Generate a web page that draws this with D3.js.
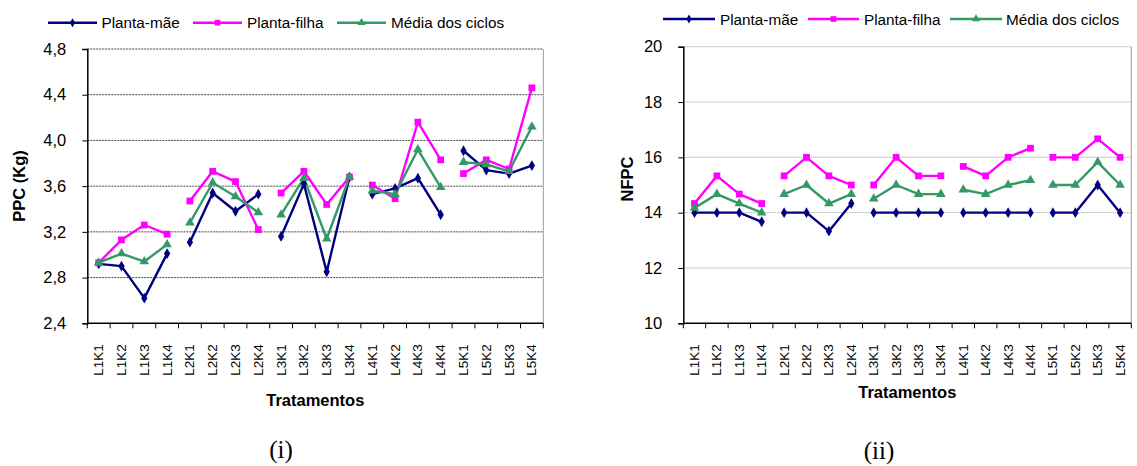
<!DOCTYPE html>
<html><head><meta charset="utf-8">
<script src="https://cdn.jsdelivr.net/npm/d3@7"></script>
<style>
html,body{margin:0;padding:0;background:#fff;}
svg{display:block;font-family:"Liberation Sans",Arial,sans-serif;}
</style></head>
<body>
<svg id="c" width="1137" height="466"></svg>
<script>
const categories = ["L1K1","L1K2","L1K3","L1K4","L2K1","L2K2","L2K3","L2K4","L3K1","L3K2","L3K3","L3K4","L4K1","L4K2","L4K3","L4K4","L5K1","L5K2","L5K3","L5K4"];
const seriesNames = ["Planta-mãe","Planta-filha","Média dos ciclos"];

const ppcMae   = [2.92,2.90,2.62,3.01,3.11,3.54,3.38,3.53,3.16,3.62,2.85,3.68,3.53,3.58,3.67,3.35,3.91,3.74,3.71,3.78];
const ppcFilha = [2.93,3.13,3.26,3.18,3.47,3.73,3.64,3.22,3.54,3.73,3.44,3.68,3.61,3.49,4.16,3.83,3.71,3.83,3.75,4.46];
const ppcMedia = [2.93,3.01,2.94,3.09,3.28,3.63,3.51,3.37,3.35,3.67,3.14,3.68,3.56,3.53,3.92,3.59,3.81,3.79,3.73,4.12];
const ppcTicks = [2.4,2.8,3.2,3.6,4.0,4.4,4.8];

const nfpcMae   = [14,14,14,13.67,14,14,13.33,14.33,14,14,14,14,14,14,14,14,14,14,15,14];
const nfpcFilha = [14.33,15.33,14.67,14.33,15.33,16,15.33,15,15,16,15.33,15.33,15.67,15.33,16,16.33,16,16,16.67,16];
const nfpcMedia = [14.17,14.67,14.33,14,14.67,15,14.33,14.67,14.5,15,14.67,14.67,14.83,14.67,15,15.17,15,15,15.83,15];
const nfpcTicks = [10,12,14,16,18,20];

const colors = ["#000080","#FF00FF","#339966"];
const symbols = [d3.symbolDiamond, d3.symbolSquare, d3.symbolTriangle];
const symSizes = [34, 46, 40];

const svg = d3.select("#c");

function drawChart(cfg){
  const g = svg.append("g");
  const x = d3.scaleBand().domain(categories).range([cfg.x0, cfg.x1]).padding(0);
  const y = d3.scaleLinear().domain([cfg.ticks[0], cfg.ticks[cfg.ticks.length-1]]).range([cfg.y1, cfg.y0]);
  const cx = c => x(c) + x.bandwidth()/2;

  // gridlines
  g.append("g").selectAll("line").data(cfg.ticks.slice(1)).join("line")
    .attr("x1", cfg.x0).attr("x2", cfg.x1)
    .attr("y1", d=>y(d)).attr("y2", d=>y(d))
    .attr("stroke", cfg.gridColor).attr("stroke-width",1).attr("stroke-dasharray", cfg.gridDash);
  // right border
  g.append("line").attr("x1",cfg.x1).attr("x2",cfg.x1).attr("y1",cfg.y0).attr("y2",cfg.y1)
    .attr("stroke","#999").attr("stroke-width",1);

  // y axis
  const ya = d3.axisLeft(y).tickValues(cfg.ticks).tickSize(5).tickPadding(16)
    .tickFormat(cfg.fmt);
  const yg = g.append("g").attr("transform",`translate(${cfg.x0},0)`).call(ya);
  yg.select(".domain").attr("stroke","#000").attr("stroke-width",1.5);
  yg.selectAll(".tick line").attr("stroke","#000");
  yg.selectAll("text").attr("font-size",16.5).attr("fill","#000").attr("font-family","Liberation Sans, Arial, sans-serif");

  // x axis: labels
  const xa = d3.axisBottom(x).tickSize(0).tickPadding(0);
  const xg = g.append("g").attr("transform",`translate(0,${cfg.y1})`).call(xa);
  xg.select(".domain").remove();
  xg.selectAll("text").attr("font-size",13.5).attr("fill","#000")
    .attr("font-family","Liberation Sans, Arial, sans-serif")
    .attr("text-anchor","end").attr("dy",null).attr("y",null)
    .attr("transform","translate(4.5,21) rotate(-90)");
  // boundary ticks
  const bounds = categories.map(c=>x(c)).concat([cfg.x1]);
  g.append("g").selectAll("line").data(bounds).join("line")
    .attr("x1",d=>d).attr("x2",d=>d).attr("y1",cfg.y1).attr("y2",cfg.y1+5)
    .attr("stroke","#000").attr("stroke-width",1);
  g.append("line").attr("x1",cfg.x0).attr("x2",cfg.x1).attr("y1",cfg.y1).attr("y2",cfg.y1)
    .attr("stroke","#000").attr("stroke-width",1.5);

  // lines by group
  const line = d3.line().x(d=>cx(d.c)).y(d=>y(d.v));
  cfg.series.forEach((vals, si) => {
    const pts = categories.map((c,i)=>({c, v:vals[i], grp:c.slice(0,2)}));
    const groups = d3.groups(pts, d=>d.grp);
    g.append("g").selectAll("path").data(groups).join("path")
      .attr("d", d=>line(d[1])).attr("fill","none")
      .attr("stroke", colors[si]).attr("stroke-width",2.4).attr("stroke-linejoin","round");
  });
  cfg.series.forEach((vals, si) => {
    g.append("g").selectAll("path").data(categories.map((c,i)=>({c, v:vals[i]}))).join("path")
      .attr("d", d3.symbol().type(symbols[si]).size(symSizes[si]))
      .attr("transform", d=>`translate(${cx(d.c)},${y(d.v)})`)
      .attr("fill", colors[si]);
  });

  // axis titles
  g.append("text").attr("transform",`translate(${cfg.yTitleX},${cfg.yTitleY}) rotate(-90)`)
    .attr("text-anchor","middle").attr("font-weight","bold").attr("font-size",16.5).text(cfg.yTitle);
  g.append("text").attr("x",(cfg.x0+cfg.x1)/2).attr("y",cfg.xTitleY)
    .attr("text-anchor","middle").attr("font-weight","bold").attr("font-size",16.5).text("Tratamentos");

  // legend
  cfg.legend.forEach((L, si) => {
    const lg = g.append("g");
    lg.append("line").attr("x1",L.lx).attr("x2",L.lx+L.lw).attr("y1",cfg.legendY).attr("y2",cfg.legendY)
      .attr("stroke",colors[si]).attr("stroke-width",2.4);
    lg.append("path").attr("d", d3.symbol().type(symbols[si]).size(symSizes[si]*0.7))
      .attr("transform",`translate(${L.lx+L.lw/2},${cfg.legendY})`).attr("fill",colors[si]);
    lg.append("text").attr("x",L.tx).attr("y",cfg.legendY+5.5).attr("font-size",15.3).text(seriesNames[si]);
  });

  // caption
  g.append("text").attr("x",cfg.capX).attr("y",cfg.capY).attr("text-anchor","middle")
    .attr("font-family","Liberation Serif, Times New Roman, serif").attr("font-size",25).text(cfg.caption);
}

drawChart({
  x0:87.3, x1:543.3, y0:49, y1:323.3,
  ticks: ppcTicks, fmt: d=>d3.format(".1f")(d).replace(".",","),
  series:[ppcMae, ppcFilha, ppcMedia],
  gridColor:"#444", gridDash:"2,1",
  yTitle:"PPC (Kg)", yTitleX:25, yTitleY:186,
  xTitleY:406,
  legendY:22.7,
  legend:[{lx:48,lw:49,tx:101.5},{lx:193,lw:49,tx:247},{lx:337,lw:49,tx:391}],
  caption:"(i)", capX:281, capY:458
});

drawChart({
  x0:683.3, x1:1131.3, y0:46.7, y1:323.3,
  ticks: nfpcTicks, fmt: d=>String(d),
  series:[nfpcMae, nfpcFilha, nfpcMedia],
  gridColor:"#999", gridDash:"1,1",
  yTitle:"NFPC", yTitleX:633, yTitleY:179,
  xTitleY:398,
  legendY:19,
  legend:[{lx:663,lw:52,tx:720},{lx:808,lw:51,tx:864},{lx:950,lw:52,tx:1006}],
  caption:"(ii)", capX:879, capY:459
});
</script>
</body></html>
